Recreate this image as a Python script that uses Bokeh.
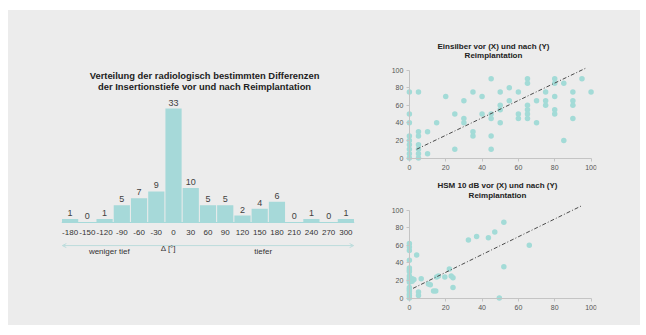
from bokeh.plotting import figure
from bokeh.models import Range1d, FixedTicker, Arrow, OpenHead, Label, Spacer
from bokeh.layouts import row, column
from bokeh.embed import file_html
from bokeh.resources import INLINE
from bokeh.core.properties import value

BG = "#ececec"
TEAL = "#a6d9d9"
DOT = "#a3dbd7"
FONT = "Liberation Sans"

# ---- histogram data ----
categories = ["-180", "-150", "-120", "-90", "-60", "-30", "0", "30", "60",
              "90", "120", "150", "180", "210", "240", "270", "300"]
counts = [1, 0, 1, 5, 7, 9, 33, 10, 5, 5, 2, 4, 6, 0, 1, 0, 1]
hist_title = ["Verteilung der radiologisch bestimmten Differenzen",
              "der Insertionstiefe vor und nach Reimplantation"]

# ---- Einsilber scatter (x = vor, y = nach) ----
ein_x = [0, 0, 0, 0, 0, 0, 0, 0, 0,
         5, 5, 5, 5, 5, 5, 5,
         10, 10, 15, 20, 25, 25, 30, 30, 30, 35, 35, 35, 40, 40,
         45, 45, 45, 45, 45, 50, 50, 50, 50, 55, 55, 60, 60, 60,
         65, 65, 65, 65, 65, 65, 70, 70, 75, 75, 75,
         80, 80, 80, 80, 80, 85, 85, 90, 90, 90, 90, 95, 100]
ein_y = [75, 50, 40, 25, 20, 15, 10, 5, 0,
         75, 30, 25, 15, 10, 5, 0,
         30, 5, 40, 70, 50, 10, 65, 45, 40, 75, 30, 25, 70, 50,
         90, 50, 45, 25, 10, 75, 60, 55, 40, 80, 65, 75, 50, 45,
         90, 85, 60, 55, 50, 45, 65, 40, 75, 65, 60,
         90, 85, 70, 55, 50, 85, 20, 75, 65, 60, 45, 90, 75]
ein_fit_x = [4, 97]
ein_fit_y = [10, 102]
ein_title = ["Einsilber vor (X) und nach (Y)", "Reimplantation"]

# ---- HSM 10 dB scatter ----
hsm_x = [0, 0, 0, 0, 0, 0, 0, 0, 0, 0, 0, 0, 0, 0, 0, 0, 0,
         1.5, 1.5, 2.5, 4, 5, 5, 6.5, 10.5, 11.5, 13.3, 14.5, 15, 16, 19.5,
         22, 23, 24, 24, 32.5, 37, 43.5, 47, 52, 52, 66, 49.5]
hsm_y = [62, 58, 54, 43, 34, 32, 30, 25, 22, 20, 18, 12, 10, 8, 5, 3, 0,
         22, 19, 21, 49, 7, 3, 22, 16, 15, 8, 8, 24, 25, 24,
         33, 25, 23, 12, 66, 70, 68.5, 75, 86, 35.5, 60, 0]
hsm_fit_x = [2, 95]
hsm_fit_y = [11, 105]
hsm_title = ["HSM 10 dB vor (X) und nach (Y)", "Reimplantation"]

scatter_ticks = [0, 20, 40, 60, 80, 100]


def make_fig(**kw):
    p = figure(output_backend="svg", toolbar_location=None,
               background_fill_color=BG, border_fill_color=BG,
               outline_line_color=None, **kw)
    p.grid.visible = False
    return p


def add_title(p, lines, xc, yref, size, offsets):
    """Two centred bold title lines, offsets in px above the data area top."""
    for txt, off in zip(lines, offsets):
        p.add_layout(Label(x=xc, y=yref, y_offset=off, text=txt,
                           text_align="center", text_baseline="middle",
                           text_font=FONT, text_font_size=size,
                           text_font_style="bold", text_color="#222222"))


# ================= left: histogram =================
H_TOP = 36.5          # top of the bar area (data units)
H_PAD = 30 / 3.451    # extra room for the title inside the frame
idx = list(range(len(categories)))
p1 = make_fig(width=360, height=315,
              x_range=Range1d(-0.5, len(categories) - 0.5),
              y_range=Range1d(-11.6, H_TOP + H_PAD),
              y_axis_location=None,
              min_border_left=53, min_border_right=14,
              min_border_top=56, min_border_bottom=63)
p1.vbar(x=idx, top=counts, width=0.94, fill_color=TEAL, line_color=None)
p1.text(x=idx, y=counts, text=[str(c) for c in counts],
        text_align="center", text_baseline="bottom", y_offset=-3,
        text_font=value(FONT), text_font_size="9px", text_color="#404040")
xa = p1.xaxis[0]
xa.fixed_location = 0
xa.ticker = FixedTicker(ticks=idx)
xa.major_label_overrides = {i: c for i, c in enumerate(categories)}
xa.major_tick_line_color = None
xa.minor_tick_line_color = None
xa.axis_line_color = TEAL
xa.major_label_standoff = 2
xa.major_label_text_font = FONT
xa.major_label_text_font_size = "8px"
xa.major_label_text_color = "#333333"

p1.add_layout(Arrow(start=OpenHead(size=4, line_color="#bcdcdc", line_width=1),
                    end=OpenHead(size=4, line_color="#bcdcdc", line_width=1),
                    x_start=-0.45, y_start=-6.7, x_end=len(categories) - 0.55,
                    y_end=-6.7, line_color="#bcdcdc", line_width=1))
for txt, xx, yy in [("weniger  tief", 2.34, -8.4), ("Δ [°]", 5.7, -7.4),
                    ("tiefer", 11.2, -8.4)]:
    p1.add_layout(Label(x=xx, y=yy, text=txt, text_align="center",
                        text_baseline="middle", text_font=FONT,
                        text_font_size="8px", text_color="#333333"))
add_title(p1, hist_title, 7.8, H_TOP, "9.4px", (21, 10))


# ================= right: scatter plots =================
S_TOP = 104


def scatter_fig(height, mb_left, mb_right, mb_top, mb_bottom, pad_px,
                xs, ys, fx, fy, title, xc, offsets):
    p = make_fig(width=272, height=height,
                 x_range=Range1d(-11.5, 103),
                 y_range=Range1d(-18.7, S_TOP + pad_px / 0.88),
                 min_border_left=mb_left, min_border_right=mb_right,
                 min_border_top=mb_top, min_border_bottom=mb_bottom)
    p.scatter(xs, ys, size=5.5, marker="circle", fill_color=DOT,
              line_color=None)
    p.line(fx, fy, line_dash="4 2 1 2", line_color="#4a4a4a", line_width=1)
    for ax in (p.xaxis[0], p.yaxis[0]):
        ax.fixed_location = 0
        ax.bounds = (0, 100)
        ax.ticker = FixedTicker(ticks=scatter_ticks)
        ax.axis_line_color = "#c4c4c4"
        ax.major_tick_line_color = "#c4c4c4"
        ax.major_tick_out = 3
        ax.major_tick_in = 0
        ax.minor_tick_line_color = None
        ax.major_label_text_font = FONT
        ax.major_label_text_font_size = "7px"
        ax.major_label_text_color = "#555555"
    p.xaxis[0].major_label_standoff = 4
    p.yaxis[0].major_label_standoff = 3
    add_title(p, title, xc, S_TOP, "8px", offsets)
    return p


p2 = scatter_fig(166, 20, 42, 30, 2, 26, ein_x, ein_y, ein_fit_x, ein_fit_y,
                 ein_title, 46.3, (20, 11))
p3 = scatter_fig(149, 18, 44, 3, 11, 27, hsm_x, hsm_y, hsm_fit_x, hsm_fit_y,
                 hsm_title, 48.5, (21, 11))

content = row(p1, column(p2, p3, spacing=0, styles={"background-color": BG}),
              spacing=0, styles={"background-color": BG})
layout = column(Spacer(height=10), row(Spacer(width=8), content, spacing=0),
                spacing=0)
open("out.html", "w").write(file_html(layout, INLINE))
